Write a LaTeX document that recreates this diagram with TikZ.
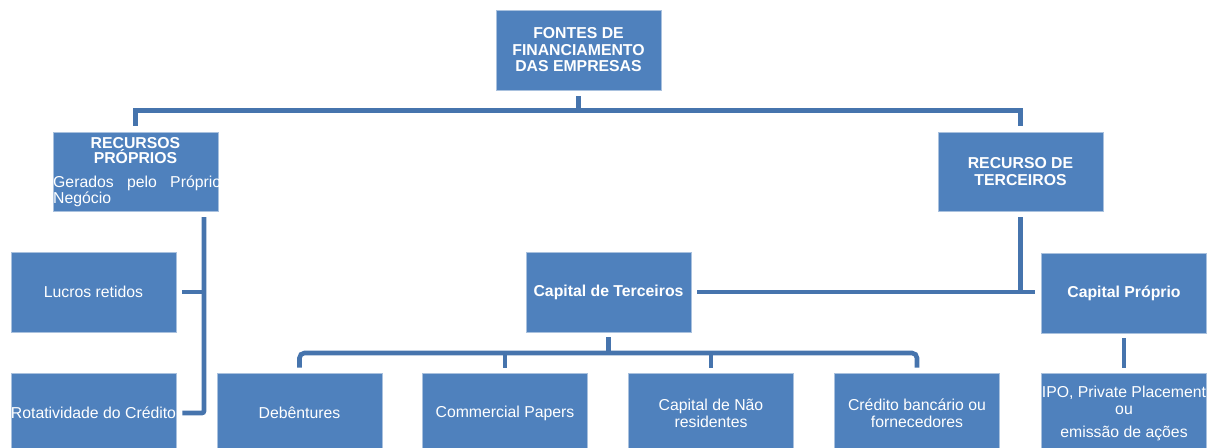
\documentclass[tikz,border=0pt]{standalone}
\usepackage{fontspec}
\setmainfont{Liberation Sans}
\definecolor{boxblue}{HTML}{4F81BD}
\definecolor{boxedge}{HTML}{A9C1DE}
\definecolor{lineblue}{HTML}{4674AD}
\begin{document}
\begin{tikzpicture}[x=1pt,y=-1pt,
  box/.style={fill=boxblue, draw=boxedge, line width=0.8pt, minimum width=165pt,
    minimum height=80pt, inner sep=0pt, text=white, align=center,
    font=\fontsize{15.8}{17}\selectfont},
  hbox/.style={box, font=\fontsize{15.8}{16.5}\selectfont\bfseries},
  wtext/.style={text=white, inner sep=0pt, align=center},
  conn/.style={draw=lineblue, line width=4.6pt}]
\clip (0,0) rectangle (1215,447);
% boxes
\node[hbox] (top) at (578.5,50) {FONTES DE\\FINANCIAMENTO\\DAS EMPRESAS};
\node[box, minimum height=79pt] (rp) at (135.5,171.5) {};
\node[wtext, font=\fontsize{15.8}{15.5}\selectfont\bfseries] (rph) at (135.5,150.5) {RECURSOS\\PRÓPRIOS};
\begin{scope}
  \clip (rp.south west) rectangle (rp.north east);
  \node[wtext, anchor=west, align=left, font=\fontsize{15.8}{16}\selectfont] (rpd) at (53,191)
    {\parbox{168pt}{\makebox[168pt][s]{Gerados pelo Próprio}\newline Negócio}};
\end{scope}
\node[hbox, minimum height=79pt] (rt) at (1020.5,171.5) {RECURSO DE\\TERCEIROS};
\node[box] (lucros) at (93.5,292) {Lucros retidos};
\node[box] (rot) at (93.5,413) {Rotatividade do Crédito};
\node[hbox] (ct) at (608.5,292) {Capital de Terceiros};
\node[hbox] (cp) at (1124,293) {Capital Próprio};
\node[box] (deb) at (299.5,413) {Debêntures};
\node[box] (com) at (505,413) {Commercial Papers};
\node[box] (cnr) at (711,413) {Capital de Não\\residentes};
\node[box] (cred) at (917,413) {Crédito bancário ou\\fornecedores};
\node[box] (ipo) at (1124,413) {IPO, Private Placement\\ou\\[6pt]emissão de ações};
% connectors
\coordinate (bus1) at (578.5,110.5);
\draw[conn] ([yshift=-6pt]top.south) -- (bus1);
\draw[conn] ([yshift=6pt]rp.north) -- (rp.north |- bus1) -- (rt.north |- bus1) -- ([yshift=6pt]rt.north);
\coordinate (lv) at (204,217);
\draw[conn, rounded corners=2pt] (lv) |- ([xshift=6pt]rot.east);
\draw[conn] ([xshift=6pt]lucros.east) -- (lucros.east -| lv);
\coordinate (rj) at (1042,292);
\draw[conn] ([yshift=-6pt]rt.south) -- (rt.south |- ct.east);
\draw[conn] ([xshift=6pt]ct.east) -- ([xshift=-7pt]rj);
\coordinate (bus2) at (608.5,353);
\draw[conn] ([yshift=-5pt]ct.south) -- (bus2);
\draw[conn, rounded corners=5pt] ([yshift=5pt]deb.north) |- (bus2) -| ([yshift=5pt]cred.north);
\draw[conn] (com.north |- bus2) -- ([yshift=5pt]com.north);
\draw[conn] (cnr.north |- bus2) -- ([yshift=5pt]cnr.north);
\draw[conn] ([yshift=-5pt]cp.south) -- ([yshift=5pt]ipo.north);
\end{tikzpicture}
\end{document}
